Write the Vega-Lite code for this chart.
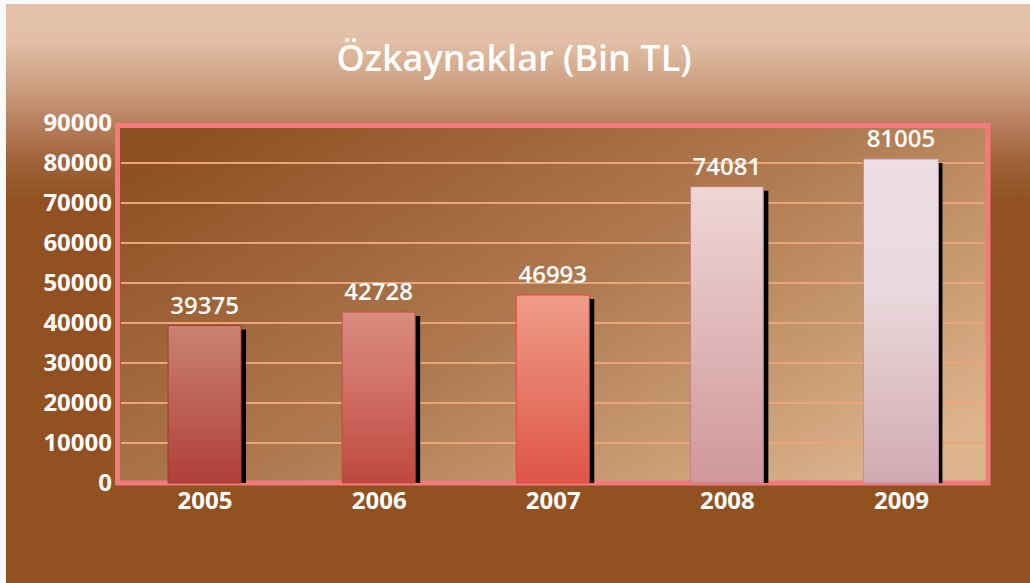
{
  "$schema": "https://vega.github.io/schema/vega-lite/v6.json",
  "width": 1024,
  "height": 579,
  "autosize": {"type": "none"},
  "padding": {"left": 6, "top": 4, "right": 0, "bottom": 0},
  "background": "#fbfafa",
  "config": {
    "view": {
      "stroke": null,
      "fill": {
        "gradient": "linear",
        "x1": 0, "y1": 0, "x2": 0, "y2": 1,
        "stops": [
          {"offset": 0, "color": "#e3c1a8"},
          {"offset": 0.065, "color": "#e2bfa6"},
          {"offset": 0.13, "color": "#d0a486"},
          {"offset": 0.2, "color": "#ba8262"},
          {"offset": 0.27, "color": "#a0643a"},
          {"offset": 0.34, "color": "#915121"},
          {"offset": 1, "color": "#915121"}
        ]
      }
    },
    "font": "Open Sans",
    "scale": {"continuousPadding": 0},
    "axis": {
      "domain": false, "ticks": false, "grid": false,
      "labelColor": "white", "labelFont": "Open Sans", "labelFontSize": 24, "labelFontWeight": "bold",
      "labelPadding": 6, "labelFlush": false, "labelOverlap": false, "labelBound": false, "zindex": 2
    },
    "axisX": {"offset": -100, "tickCount": 5},
    "axisY": {"offset": -111.5, "tickCount": 10}
  },
  "title": {
    "text": "Özkaynaklar (Bin TL)",
    "color": "white",
    "font": "Open Sans",
    "fontSize": 36,
    "fontWeight": 600,
    "anchor": "middle",
    "baseline": "middle",
    "offset": -92,
    "dx": -4
  },
  "data": {
    "values": [
      {"year": 2005, "value": 39375},
      {"year": 2006, "value": 42728},
      {"year": 2007, "value": 46993},
      {"year": 2008, "value": 74081},
      {"year": 2009, "value": 81005}
    ]
  },
  "layer": [
    {
      "data": {"values": [{"panel": "plot"}]},
      "mark": {
        "type": "rect",
        "stroke": "#f27a7c",
        "strokeWidth": 5,
        "fill": {
          "gradient": "linear",
          "x1": 0, "y1": 0.15, "x2": 1, "y2": 0.85,
          "stops": [
            {"offset": 0, "color": "#8e5022"},
            {"offset": 0.5, "color": "#b07a50"},
            {"offset": 1, "color": "#deb68e"}
          ]
        }
      },
      "encoding": {
        "x": {"datum": 2004.5, "type": "quantitative", "scale": {"domain": [2004.5, 2009.5], "range": [111.5, 982], "nice": false, "zero": false, "padding": 0}, "axis": {"title": null, "format": "d"}},
        "x2": {"datum": 2009.5},
        "y": {"datum": 0, "type": "quantitative", "scale": {"domain": [0, 90000], "range": [479, 119], "nice": false, "zero": false, "padding": 0}, "axis": {"title": null, "format": "d"}},
        "y2": {"datum": 89400}
      }
    },
    {
      "data": {"values": [{"v": 10000}, {"v": 20000}, {"v": 30000}, {"v": 40000}, {"v": 50000}, {"v": 60000}, {"v": 70000}, {"v": 80000}]},
      "mark": {"type": "rule", "color": "#eca57a", "strokeWidth": 2.2},
      "encoding": {
        "x": {"datum": 2004.52, "type": "quantitative", "scale": {"domain": [2004.5, 2009.5], "range": [111.5, 982], "nice": false, "zero": false, "padding": 0}, "axis": {"title": null, "format": "d"}},
        "x2": {"datum": 2009.48},
        "y": {"field": "v", "type": "quantitative", "scale": {"domain": [0, 90000], "range": [479, 119], "nice": false, "zero": false, "padding": 0}, "axis": {"title": null, "format": "d"}}
      }
    },
    {
      "mark": {"type": "bar", "color": "#000000", "width": 73, "xOffset": 5, "yOffset": 4},
      "encoding": {
        "x": {"field": "year", "type": "quantitative", "scale": {"domain": [2004.5, 2009.5], "range": [111.5, 982], "nice": false, "zero": false, "padding": 0}, "axis": {"title": null, "format": "d"}},
        "y": {"field": "value", "type": "quantitative", "scale": {"domain": [0, 90000], "range": [479, 119], "nice": false, "zero": false, "padding": 0}, "axis": {"title": null, "format": "d"}},
        "y2": {"datum": 0}
      }
    },
    {
      "transform": [{"filter": "datum.year == 2005"}],
      "mark": {
        "type": "bar", "width": 73, "stroke": "#a83636", "strokeWidth": 1,
        "fill": {"gradient": "linear", "x1": 0, "y1": 0, "x2": 0, "y2": 1,
          "stops": [{"offset": 0, "color": "#c98373"}, {"offset": 1, "color": "#b03f38"}]}
      },
      "encoding": {
        "x": {"field": "year", "type": "quantitative", "scale": {"domain": [2004.5, 2009.5], "range": [111.5, 982], "nice": false, "zero": false, "padding": 0}, "axis": {"title": null, "format": "d"}},
        "y": {"field": "value", "type": "quantitative", "scale": {"domain": [0, 90000], "range": [479, 119], "nice": false, "zero": false, "padding": 0}, "axis": {"title": null, "format": "d"}},
        "y2": {"datum": 0}
      }
    },
    {
      "transform": [{"filter": "datum.year == 2006"}],
      "mark": {
        "type": "bar", "width": 73, "stroke": "#c44a48", "strokeWidth": 1,
        "fill": {"gradient": "linear", "x1": 0, "y1": 0, "x2": 0, "y2": 1,
          "stops": [{"offset": 0, "color": "#da8d80"}, {"offset": 0.5, "color": "#cf6c62"}, {"offset": 1, "color": "#be4841"}]}
      },
      "encoding": {
        "x": {"field": "year", "type": "quantitative", "scale": {"domain": [2004.5, 2009.5], "range": [111.5, 982], "nice": false, "zero": false, "padding": 0}, "axis": {"title": null, "format": "d"}},
        "y": {"field": "value", "type": "quantitative", "scale": {"domain": [0, 90000], "range": [479, 119], "nice": false, "zero": false, "padding": 0}, "axis": {"title": null, "format": "d"}},
        "y2": {"datum": 0}
      }
    },
    {
      "transform": [{"filter": "datum.year == 2007"}],
      "mark": {
        "type": "bar", "width": 73, "stroke": "#e04848", "strokeWidth": 1,
        "fill": {"gradient": "linear", "x1": 0, "y1": 0, "x2": 0, "y2": 1,
          "stops": [{"offset": 0, "color": "#ee9c88"}, {"offset": 1, "color": "#df5547"}]}
      },
      "encoding": {
        "x": {"field": "year", "type": "quantitative", "scale": {"domain": [2004.5, 2009.5], "range": [111.5, 982], "nice": false, "zero": false, "padding": 0}, "axis": {"title": null, "format": "d"}},
        "y": {"field": "value", "type": "quantitative", "scale": {"domain": [0, 90000], "range": [479, 119], "nice": false, "zero": false, "padding": 0}, "axis": {"title": null, "format": "d"}},
        "y2": {"datum": 0}
      }
    },
    {
      "transform": [{"filter": "datum.year == 2008"}],
      "mark": {
        "type": "bar", "width": 73, "stroke": "#c47a84", "strokeWidth": 1,
        "fill": {"gradient": "linear", "x1": 0, "y1": 0, "x2": 0, "y2": 1,
          "stops": [{"offset": 0, "color": "#efd6d5"}, {"offset": 1, "color": "#d0979b"}]}
      },
      "encoding": {
        "x": {"field": "year", "type": "quantitative", "scale": {"domain": [2004.5, 2009.5], "range": [111.5, 982], "nice": false, "zero": false, "padding": 0}, "axis": {"title": null, "format": "d"}},
        "y": {"field": "value", "type": "quantitative", "scale": {"domain": [0, 90000], "range": [479, 119], "nice": false, "zero": false, "padding": 0}, "axis": {"title": null, "format": "d"}},
        "y2": {"datum": 0}
      }
    },
    {
      "transform": [{"filter": "datum.year == 2009"}],
      "mark": {
        "type": "bar", "width": 75, "stroke": "#b993a2", "strokeWidth": 1,
        "fill": {"gradient": "linear", "x1": 0, "y1": 0, "x2": 0, "y2": 1,
          "stops": [{"offset": 0, "color": "#ecdee1"}, {"offset": 0.4, "color": "#eadadd"}, {"offset": 1, "color": "#d2a9b2"}]}
      },
      "encoding": {
        "x": {"field": "year", "type": "quantitative", "scale": {"domain": [2004.5, 2009.5], "range": [111.5, 982], "nice": false, "zero": false, "padding": 0}, "axis": {"title": null, "format": "d"}},
        "y": {"field": "value", "type": "quantitative", "scale": {"domain": [0, 90000], "range": [479, 119], "nice": false, "zero": false, "padding": 0}, "axis": {"title": null, "format": "d"}},
        "y2": {"datum": 0}
      }
    },
    {
      "mark": {"type": "text", "color": "white", "font": "Open Sans", "fontSize": 24, "fontWeight": 600, "baseline": "alphabetic", "dy": -12},
      "encoding": {
        "x": {"field": "year", "type": "quantitative", "scale": {"domain": [2004.5, 2009.5], "range": [111.5, 982], "nice": false, "zero": false, "padding": 0}, "axis": {"title": null, "format": "d"}},
        "y": {"field": "value", "type": "quantitative", "scale": {"domain": [0, 90000], "range": [479, 119], "nice": false, "zero": false, "padding": 0}, "axis": {"title": null, "format": "d"}},
        "text": {"field": "value", "type": "quantitative", "format": "d"}
      }
    }
  ]
}
